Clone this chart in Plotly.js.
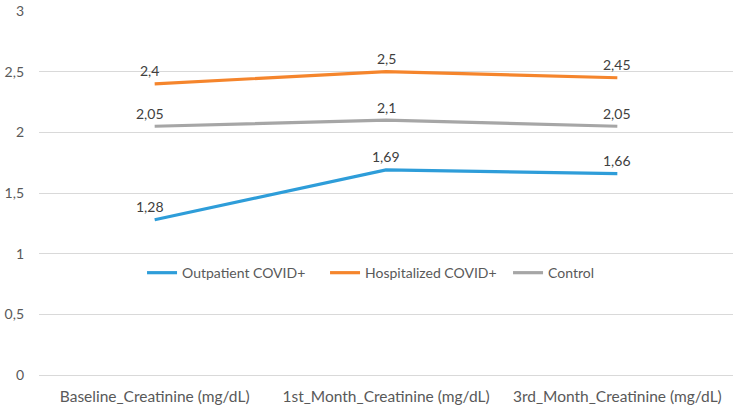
<!DOCTYPE html>
<html>
<head>
<meta charset="utf-8">
<script src="https://cdn.plot.ly/plotly-3.0.1.min.js"></script>
<style>
  html, body { margin: 0; padding: 0; background: #fff; }
  #chart { width: 738px; height: 410px; }
</style>
</head>
<body>
<div id="chart"></div>
<script>
// Creatinine follow-up by patient group
const categories = [
  "Baseline_Creatinine (mg/dL)",
  "1st_Month_Creatinine (mg/dL)",
  "3rd_Month_Creatinine (mg/dL)"
];
const outpatient = [1.28, 1.69, 1.66];
const hospitalized = [2.4, 2.5, 2.45];
const control = [2.05, 2.1, 2.05];
const yTicks = [0, 0.5, 1, 1.5, 2, 2.5, 3];

const fmt = v => String(v).replace(".", ",");
const FONT = "Lato, 'Open Sans', sans-serif";
const TEXT = "#595959";

const groups = [
  { name: "Outpatient COVID+", values: outpatient, color: "#2E9DD9" },
  { name: "Hospitalized COVID+", values: hospitalized, color: "#F5852C" },
  { name: "Control", values: control, color: "#A6A6A6" }
];

const data = groups.map(g => ({
  type: "scatter",
  mode: "lines",
  name: g.name,
  x: categories,
  y: g.values,
  line: { color: g.color, width: 3.2 }
}));

// value labels sit just above each point
const annotations = [];
groups.forEach(g => {
  g.values.forEach((v, i) => {
    annotations.push({
      x: categories[i],
      y: v,
      xref: "x",
      yref: "y",
      text: fmt(v),
      showarrow: false,
      yanchor: "middle",
      xanchor: "center",
      yshift: 13,
      xshift: i === 0 ? -5 : 0,
      font: { family: FONT, size: 14, color: "#404040" }
    });
  });
});

const layout = {
  width: 738,
  height: 410,
  margin: { l: 39, r: 5, t: 11, b: 35 },
  paper_bgcolor: "#ffffff",
  plot_bgcolor: "#ffffff",
  font: { family: FONT, size: 14, color: TEXT },
  showlegend: true,
  legend: {
    orientation: "h",
    x: 0.544, xanchor: "center",
    y: 0.28, yanchor: "middle",
    bgcolor: "rgba(0,0,0,0)",
    font: { family: FONT, size: 14, color: TEXT },
    itemwidth: 30,
    entrywidth: 138,
    traceorder: "normal"
  },
  annotations: annotations,
  xaxis: {
    type: "category",
    range: [-0.5, 2.5],
    showgrid: false,
    zeroline: false,
    showline: false,
    ticks: "",
    ticklabelstandoff: 10,
    tickfont: { family: FONT, size: 15.5, color: TEXT }
  },
  yaxis: {
    range: [0, 3],
    tickvals: yTicks,
    ticktext: yTicks.map(fmt),
    showgrid: true,
    gridcolor: "#D9D9D9",
    gridwidth: 1,
    zeroline: true,
    zerolinecolor: "#D9D9D9",
    zerolinewidth: 1,
    showline: false,
    ticks: "",
    ticklabelstandoff: 14,
    tickfont: { family: FONT, size: 14, color: TEXT }
  }
};

Plotly.newPlot("chart", data, layout, { displayModeBar: false, staticPlot: true });
</script>
</body>
</html>
